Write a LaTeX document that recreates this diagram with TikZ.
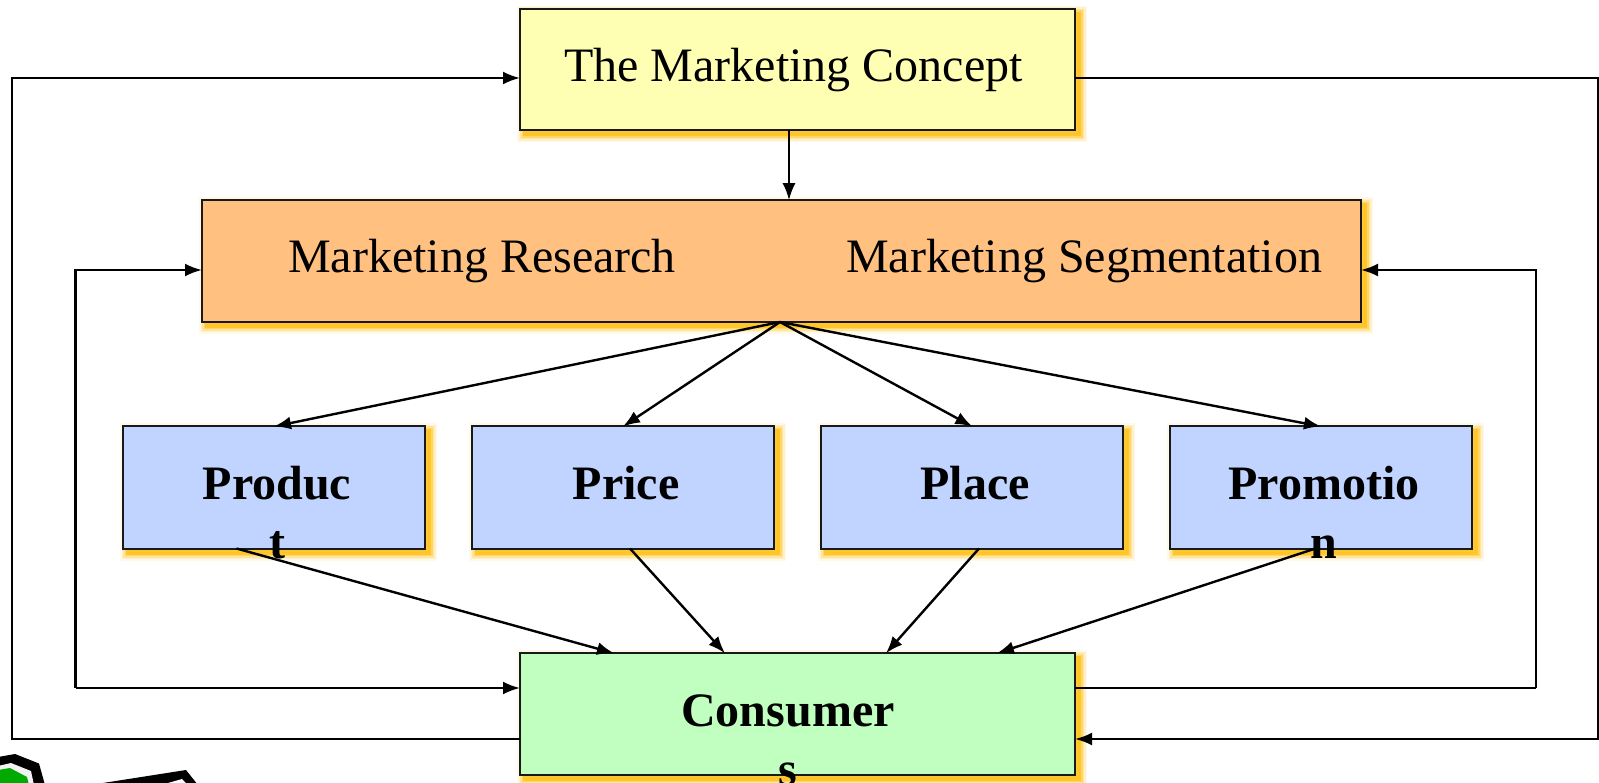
\documentclass[tikz,border=0pt]{standalone}
\usepackage{fontspec}
\setmainfont{Liberation Serif}
\usetikzlibrary{arrows.meta}
\definecolor{shc}{HTML}{FFC424}
\definecolor{conceptc}{HTML}{FFFFB3}
\definecolor{researchc}{HTML}{FFC080}
\definecolor{mixc}{HTML}{C0D4FF}
\definecolor{consumerc}{HTML}{C0FFC0}
\definecolor{iconc}{HTML}{00AA00}
\tikzset{
  softshadow/.style={
    preaction={draw=shc,line width=15pt,opacity=.10,transform canvas={shift={(4.5pt,-4.5pt)}}},
    preaction={draw=shc,line width=12pt,opacity=.16,transform canvas={shift={(4.5pt,-4.5pt)}}},
    preaction={draw=shc,line width=9pt,opacity=.26,transform canvas={shift={(4.5pt,-4.5pt)}}},
    preaction={draw=shc,line width=6pt,opacity=.45,transform canvas={shift={(4.5pt,-4.5pt)}}},
    preaction={draw=shc,fill=shc,line width=3pt,opacity=.85,transform canvas={shift={(4.5pt,-4.5pt)}}}},
  boxbase/.style={rectangle,draw=black!90,line width=2pt,inner sep=0pt,outer sep=0pt,softshadow},
  wide/.style={boxbase,minimum width=555pt,minimum height=121.5pt},
  band/.style={boxbase,minimum width=1159pt,minimum height=121.5pt},
  mixbox/.style={boxbase,fill=mixc,minimum width=302pt,minimum height=122pt},
  plain/.style={font=\fontsize{48}{56}\selectfont,inner sep=0pt,anchor=base},
  strong/.style={font=\fontsize{48}{56}\selectfont\bfseries,inner sep=0pt,anchor=base},
  link/.style={line width=2.4pt,draw=black,line join=miter},
  arr/.style={link,-{Latex[length=17pt,width=13pt]}}
}
\begin{document}
\begin{tikzpicture}[x=1pt,y=-1pt]
\useasboundingbox (0,0) rectangle (1599,783);
\clip (0,0) rectangle (1599,783);
% clipped icons at the lower left
\fill[black] (-2,757) -- (15,754) -- (39,763.5) -- (45,785) -- (-2,785) -- cycle;
\fill[white!95!black] (-2,766) -- (11,763) -- (31,771) -- (34,785) -- (-2,785) -- cycle;
\fill[iconc] (-2,770) -- (10,768) -- (27,777) -- (29,785) -- (-2,785) -- cycle;
\fill[black] (103,783) -- (186,770) -- (198,785) -- (103,785) -- cycle;
\fill[white] (168,783) -- (182,779) -- (188,785) -- (168,785) -- cycle;
% boxes
\node[wide,fill=conceptc] (concept) at (797.5,69.5) {};
\node[band,fill=researchc] (research) at (781.5,261) {};
\node[mixbox] (product) at (274,487.5) {};
\node[mixbox] (price) at (623,487.5) {};
\node[mixbox] (place) at (972.3,487.5) {};
\node[mixbox] (promotion) at (1321,487.5) {};
\node[wide,fill=consumerc] (consumers) at (797.5,714) {};
% anchors on the box edges
\coordinate (fan) at (780,322);
\coordinate (outerL) at (12,739);
\coordinate (outerLT) at (12,78);
\coordinate (innerL) at (75.5,688);
\coordinate (innerLT) at (75.5,270);
\coordinate (outerR) at (1598,78);
\coordinate (outerRB) at (1598,739);
\coordinate (innerR) at (1536,688);
\coordinate (innerRT) at (1536,270);
% connectors
\draw[arr] (concept.south -| 789,0) -- (research.north -| 789,0);
\draw[arr] (consumers.west |- outerL) -- (outerL) -- (outerLT) -- (concept.west |- outerLT);
\draw[arr] (concept.east |- outerR) -- (outerR) -- (outerRB) -- (consumers.east |- outerRB);
\draw[arr] (innerL) -- (consumers.west |- innerL);
\draw[arr] (innerL) -- (innerLT) -- (research.west |- innerLT);
\draw[link] (consumers.east |- innerR) -- (innerR);
\draw[arr] (innerR) -- (innerRT) -- (research.east |- innerRT);
\draw[arr] (fan) -- (product.north);
\draw[arr] (fan) -- (price.north);
\draw[arr] (fan) -- (place.north);
\draw[arr] (fan) -- (promotion.north);
\draw[arr] (product.south -| 236.5,0) -- (consumers.north -| 614,0);
\draw[arr] (price.south -| 630,0) -- (consumers.north -| 725,0);
\draw[arr] (place.south -| 979,0) -- (consumers.north -| 886,0);
\draw[arr] (promotion.south -| 1315.5,0) -- (consumers.north -| 997,0);
% texts
\node[plain] (t1) at (793.5,82) {The Marketing Concept};
\node[plain] (t2) at (482,272.5) {Marketing Research};
\node[plain] (t3) at (1084,272.5) {Marketing Segmentation};
\node[strong] (t4) at (277,499) {Produc};
\node[strong] (t4b) at (277,558) {t};
\node[strong] (t5) at (626,499) {Price};
\node[strong] (t6) at (975,499) {Place};
\node[strong] (t7) at (1324,499) {Promotio};
\node[strong] (t7b) at (1324,558) {n};
\node[strong] (t8) at (788,726) {Consumer};
\node[strong] (t8b) at (788,785) {s};
\end{tikzpicture}
\end{document}
